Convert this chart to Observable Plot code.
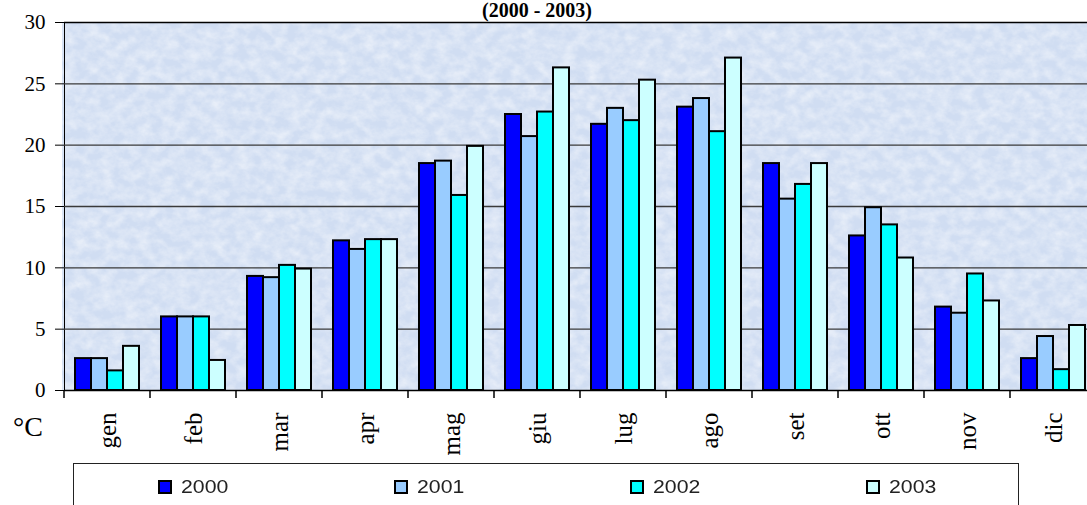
<!DOCTYPE html>
<html>
<head>
<meta charset="utf-8">
<script src="https://cdn.jsdelivr.net/npm/d3@7"></script>
<script src="https://cdn.jsdelivr.net/npm/@observablehq/plot@0.6"></script>
<style>
  html, body { margin: 0; padding: 0; background: #fff; overflow: hidden; }
  #wrap { position: relative; width: 1087px; height: 505px; overflow: hidden; background: #fff; }
  #chart { position: absolute; left: 0; top: 0; }
  #chart svg { max-width: none; overflow: visible; font-family: "Liberation Serif", serif; font-size: 21px; background: transparent; color: #000; }
  #chart g[aria-label^="fx-axis"] text { font-size: 25px; }
  #title { position: absolute; top: 0px; left: 0; width: 1074px; text-align: center; font: bold 20px/20px "Liberation Serif", serif; color: #000; }
  #unit { position: absolute; left: 13px; top: 413px; font: 28px/28px "Liberation Serif", serif; color: #000; }
  #legend { position: absolute; left: 73px; top: 463px; width: 946px; height: 80px; border: 1.5px solid #222; background: #fff; box-sizing: border-box; }
  #legend .row { position: absolute; left: 0; top: 13px; width: 100%; display: flex; }
  #legend .item { width: 25%; display: flex; align-items: center; padding-left: 84px; box-sizing: border-box; height: 20px; }
  #legend .sw { width: 10px; height: 10px; border: 2px solid #000; margin-right: 9px; flex: none; }
  #legend .lab { display: inline-block; font: 18px/20px "Liberation Sans", Arial, sans-serif; color: #222; transform: scaleX(1.18); transform-origin: left center; }
</style>
</head>
<body>
<div id="wrap">
  <div id="title">(2000 - 2003)</div>
  <div id="chart"></div>
  <div id="unit">°C</div>
  <div id="legend"><div class="row"></div></div>
</div>
<script>
// ---- data ----
const months = ["gen", "feb", "mar", "apr", "mag", "giu", "lug", "ago", "set", "ott", "nov", "dic"];
const years = ["2000", "2001", "2002", "2003"];
const t2000 = [2.6, 6.0, 9.3, 12.2, 18.5, 22.5, 21.7, 23.1, 18.5, 12.6, 6.8, 2.6];
const t2001 = [2.6, 6.0, 9.2, 11.5, 18.7, 20.7, 23.0, 23.8, 15.6, 14.9, 6.3, 4.4];
const t2002 = [1.6, 6.0, 10.2, 12.3, 15.9, 22.7, 22.0, 21.1, 16.8, 13.5, 9.5, 1.7];
const t2003 = [3.6, 2.45, 9.9, 12.3, 19.9, 26.3, 25.3, 27.1, 18.5, 10.8, 7.3, 5.3];
const yTicks = [0, 5, 10, 15, 20, 25, 30];
const gridValues = [5, 10, 15, 20, 25];
const colors = ["#0000ff", "#99ccff", "#00ffff", "#ccffff"];
const bg = "#d0ddf2";

const series = [t2000, t2001, t2002, t2003];
const data = months.flatMap((m, i) => years.map((y, j) => ({month: m, year: y, value: series[j][i]})));

const chart = Plot.plot({
  width: 1098,
  height: 505,
  marginLeft: 62,
  marginRight: 0,
  marginTop: 22,
  marginBottom: 115,
  facet: {marginTop: 0, marginBottom: 0, marginLeft: 0, marginRight: 0},
  fx: {domain: months, padding: 0, label: null, axis: "bottom", tickSize: 0, tickRotate: -90, tickPadding: 22},
  x: {domain: years, paddingInner: 0, paddingOuter: 0.655, axis: null},
  y: {domain: [0, 30], ticks: yTicks, tickSize: 9, tickPadding: 10, label: null, line: true},
  color: {domain: years, range: colors},
  marks: [
    Plot.ruleY(gridValues, {stroke: "#3a3a3a", strokeWidth: 1.3}),
    Plot.ruleY([30], {stroke: "#000", strokeWidth: 1.5}),
    Plot.barY(data, {fx: "month", x: "year", y: "value", fill: "year", stroke: "#000", strokeWidth: 2}),
    Plot.ruleY([0], {stroke: "#000", strokeWidth: 1.5})
  ]
});
document.getElementById("chart").appendChild(chart);

const fx = chart.scale("fx");
const ys = chart.scale("y");
const y0 = ys.apply(0), yTop = ys.apply(30);
const xLeft = fx.range[0], xRight = fx.range[1];
const svg = d3.select(chart);

// textured plot-area background, placed with the scales' ranges
const defs = svg.insert("defs", ":first-child");
const f = defs.append("filter").attr("id", "tex").attr("x", 0).attr("y", 0).attr("width", "100%").attr("height", "100%");
f.append("feTurbulence").attr("type", "fractalNoise").attr("baseFrequency", "0.08 0.1").attr("numOctaves", 4).attr("seed", 7).attr("result", "n");
f.append("feColorMatrix").attr("in", "n").attr("type", "matrix")
  .attr("values", "0 0 0 0 1  0 0 0 0 1  0 0 0 0 1  0.9 0 0 0 -0.28");
const bgG = svg.insert("g", "defs + *");
bgG.append("rect").attr("x", xLeft).attr("y", yTop).attr("width", xRight - xLeft).attr("height", y0 - yTop).attr("fill", bg);
bgG.append("rect").attr("x", xLeft).attr("y", yTop).attr("width", xRight - xLeft).attr("height", y0 - yTop).attr("fill", "#fff").attr("filter", "url(#tex)");

// category boundary ticks on the x axis, placed with the fx scale
const bounds = months.map(m => fx.apply(m)).concat([fx.apply(months[months.length - 1]) + fx.bandwidth]);
svg.append("g")
  .attr("stroke", "#000").attr("stroke-width", 1.5)
  .selectAll("line").data(bounds).join("line")
  .attr("x1", d => d).attr("x2", d => d)
  .attr("y1", y0).attr("y2", y0 + 8);

// legend
const row = d3.select("#legend .row");
const items = row.selectAll(".item").data(years).join("div").attr("class", "item");
items.append("span").attr("class", "sw").style("background", (d, i) => colors[i]);
items.append("span").attr("class", "lab").text(d => d);
</script>
</body>
</html>
